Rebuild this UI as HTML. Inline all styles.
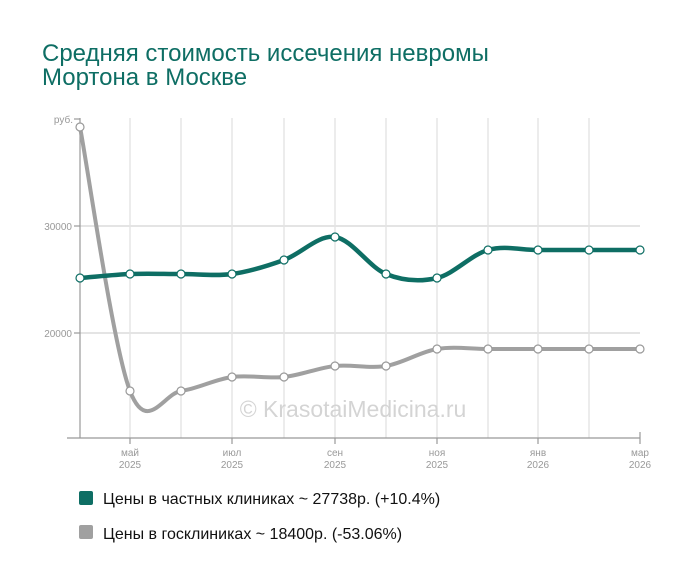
<!DOCTYPE html>
<html><head><meta charset="utf-8"><style>
html,body{margin:0;padding:0;background:#fff;width:700px;height:582px;overflow:hidden}
svg{display:block}
</style></head><body>
<svg id="s" width="700" height="582" xmlns="http://www.w3.org/2000/svg" font-family="Liberation Sans, sans-serif">
<text x="42" y="61" font-size="24" fill="#0e6e64">Средняя стоимость иссечения невромы</text>
<text x="42" y="85" font-size="24" fill="#0e6e64">Мортона в Москве</text>
<g stroke="#d8d8d8" stroke-width="1">
<line x1="130" y1="118" x2="130" y2="438"/><line x1="181" y1="118" x2="181" y2="438"/><line x1="232" y1="118" x2="232" y2="438"/><line x1="284" y1="118" x2="284" y2="438"/><line x1="335" y1="118" x2="335" y2="438"/><line x1="386" y1="118" x2="386" y2="438"/><line x1="437" y1="118" x2="437" y2="438"/><line x1="488" y1="118" x2="488" y2="438"/><line x1="538" y1="118" x2="538" y2="438"/><line x1="589" y1="118" x2="589" y2="438"/>
</g>
<g stroke="#e4e4e4" stroke-width="2"><line x1="80" y1="226" x2="640" y2="226"/><line x1="80" y1="333" x2="640" y2="333"/></g>
<g stroke="#999" stroke-width="1.2" fill="none">
<line x1="80" y1="118" x2="80" y2="438"/><line x1="74" y1="119" x2="80" y2="119"/><line x1="74" y1="226" x2="80" y2="226"/><line x1="74" y1="333" x2="80" y2="333"/>
<line x1="67" y1="438" x2="640" y2="438"/>
<line x1="130" y1="438" x2="130" y2="444"/><line x1="232" y1="438" x2="232" y2="444"/><line x1="335" y1="438" x2="335" y2="444"/><line x1="437" y1="438" x2="437" y2="444"/><line x1="538" y1="438" x2="538" y2="444"/><line x1="640" y1="432" x2="640" y2="444"/>
</g>
<g font-size="10" fill="#999" text-anchor="end">
<text x="73" y="123">руб.</text><text x="72" y="230">30000</text><text x="72" y="337">20000</text>
</g>
<g font-size="10" fill="#999" text-anchor="middle">
<text x="130" y="456">май</text><text x="130" y="468">2025</text>
<text x="232" y="456">июл</text><text x="232" y="468">2025</text>
<text x="335" y="456">сен</text><text x="335" y="468">2025</text>
<text x="437" y="456">ноя</text><text x="437" y="468">2025</text>
<text x="538" y="456">янв</text><text x="538" y="468">2026</text>
<text x="640" y="456">мар</text><text x="640" y="468">2026</text>
</g>
<text x="353" y="417" font-size="23" fill="#d4d4d4" text-anchor="middle">© KrasotaiMedicina.ru</text>
<path id="g" fill="none" stroke="#a0a0a0" stroke-width="4"/>
<path id="t" fill="none" stroke="#0e6e64" stroke-width="4.5"/>
<g id="dots"></g>
<rect x="79" y="491" width="14" height="14" rx="2" fill="#0e6e64"/>
<text x="103" y="504" font-size="16" fill="#111">Цены в частных клиниках ~ 27738р. (+10.4%)</text>
<rect x="79" y="525" width="14" height="14" rx="2" fill="#a0a0a0"/>
<text x="103" y="539" font-size="16" fill="#111">Цены в госклиниках ~ 18400р. (-53.06%)</text>
</svg>
<script>
var X=[80,130,181,232,284,335,386,437,488,538,589,640];
var T=[278,274,274,274,260,237,274,278,250,250,250,250];
var G=[127,391,391,377,377,366,366,349,349,349,349,349];
function path(Y){var d="M"+X[0]+","+Y[0];for(var i=0;i<X.length-1;i++){var p0=i?i-1:i,p3=i+2<X.length?i+2:i+1;
var c1x=X[i]+(X[i+1]-X[p0])/6,c1y=Y[i]+(Y[i+1]-Y[p0])/6,c2x=X[i+1]-(X[p3]-X[i])/6,c2y=Y[i+1]-(Y[p3]-Y[i])/6;
d+=" C"+c1x+","+c1y+" "+c2x+","+c2y+" "+X[i+1]+","+Y[i+1];}return d;}
document.getElementById("t").setAttribute("d",path(T));
document.getElementById("g").setAttribute("d",path(G));
var h="";[[T,"#0e6e64"],[G,"#999"]].forEach(function(a){for(var i=0;i<X.length;i++)h+='<circle cx="'+X[i]+'" cy="'+a[0][i]+'" r="4" fill="#fff" stroke="'+a[1]+'" stroke-width="1.2"/>';});
document.getElementById("dots").innerHTML=h;
</script>
</body></html>
